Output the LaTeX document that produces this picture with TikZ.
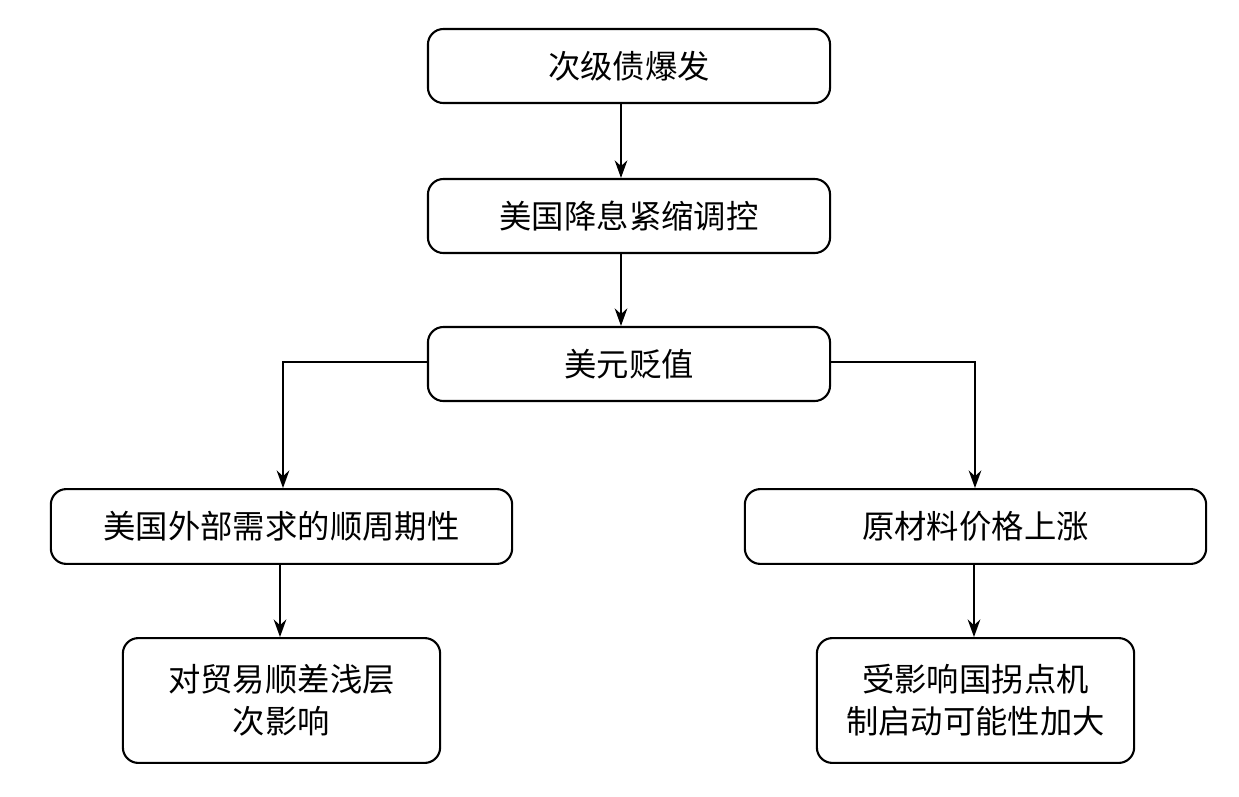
\documentclass[tikz,border=0pt]{standalone}
\usepackage{fontspec}
\setmainfont{Noto Sans CJK SC}
\usetikzlibrary{arrows.meta}
\tikzset{
  box/.style={draw, line width=1.5pt, rounded corners=11pt, align=center,
    font=\fontsize{23}{30}\selectfont, inner sep=0pt},
  flow/.style={-{Stealth[length=12.5pt,width=9pt]}, line width=1.3pt},
}
\begin{document}
\begin{tikzpicture}[x=0.025cm, y=-0.025cm]
  \useasboundingbox (0,0) rectangle (1239,797);
  \node[box, minimum width=10.05cm, minimum height=1.85cm] (subprime) at (629,66) {次级债爆发};
  \node[box, minimum width=10.05cm, minimum height=1.85cm] (ratecut) at (629,216) {美国降息紧缩调控};
  \node[box, minimum width=10.05cm, minimum height=1.85cm] (dollar) at (629,364) {美元贬值};
  \node[box, minimum width=11.53cm, minimum height=1.87cm] (demand) at (281.5,526.5) {美国外部需求的顺周期性};
  \node[box, minimum width=11.53cm, minimum height=1.87cm] (material) at (975.5,526.5) {原材料价格上涨};
  \node[box, minimum width=7.93cm, minimum height=3.12cm] (trade) at (281.5,700.5) {对贸易顺差浅层\\次影响};
  \node[box, minimum width=7.93cm, minimum height=3.12cm] (turning) at (975.5,700.5) {受影响国拐点机\\制启动可能性加大};
  \draw[flow] (subprime.south -| 621,0) -- (ratecut.north -| 621,0);
  \draw[flow] (ratecut.south -| 621,0) -- (dollar.north -| 621,0);
  \draw[flow] (dollar.west |- 0,362) -| (demand.north -| 283,0);
  \draw[flow] (dollar.east |- 0,362) -| (material.north -| 975,0);
  \draw[flow] (demand.south -| 280,0) -- (trade.north -| 280,0);
  \draw[flow] (material.south -| 974,0) -- (turning.north -| 974,0);
\end{tikzpicture}
\end{document}
